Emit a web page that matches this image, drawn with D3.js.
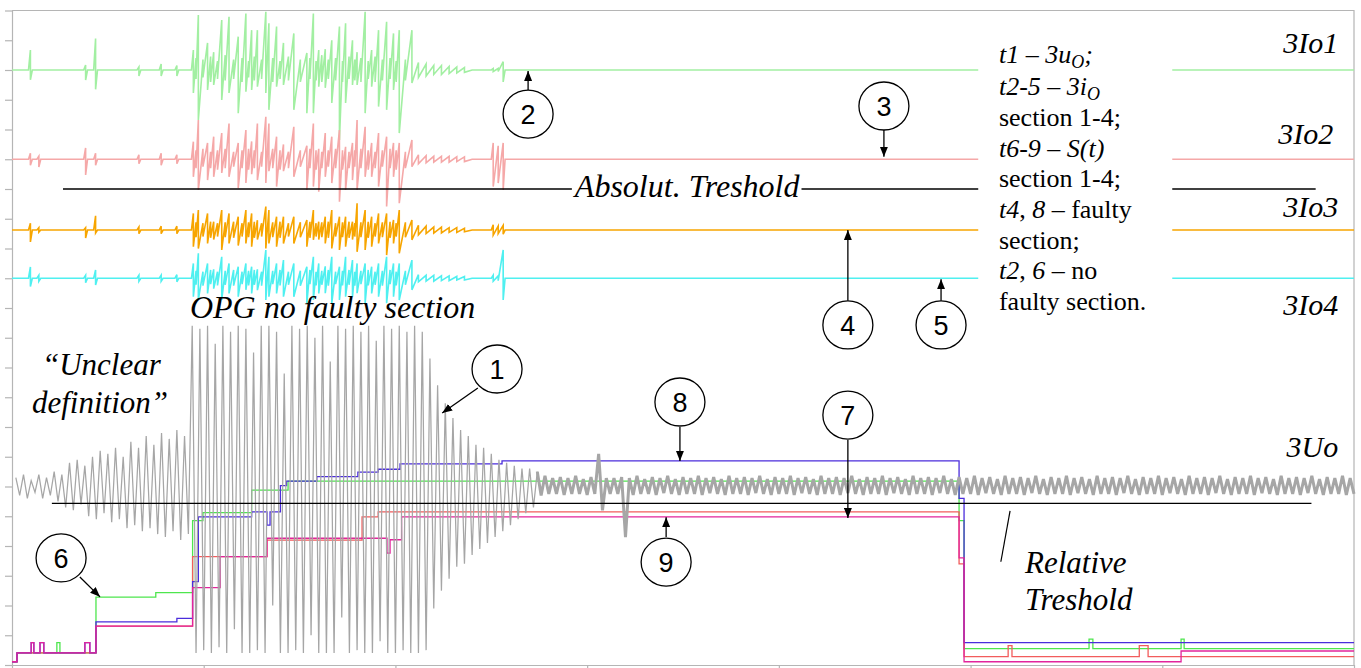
<!DOCTYPE html>
<html><head><meta charset="utf-8">
<script src="https://cdn.jsdelivr.net/npm/d3@7"></script>
<style>
html,body{margin:0;padding:0;background:#fff;}
svg{display:block;}
text{font-family:"Liberation Serif","Times New Roman",serif;}
</style></head><body>
<svg id="chart" width="1361" height="668"></svg>
<script>
// ---------------- DATA ----------------
// time axis ticks (ms) and level ticks (unlabelled grid of the oscillogram)
const timeTicks = [0,50,100,150,200,250,300,350];
const levelTicks = [0,1,2,3,4,5,6,7,8,9,10,11,12,13,14,15,16,17,18,19,20,21,22];

// 3Uo : alternating peak values, one per ms starting at t = 1 ms
const uoStartMs = 1;
const uoOnset = [6.3,5.7,6.4,5.6,6.2,5.8,6.4,5.6,6.3,5.7,6.5,5.5,6.4,
  5.3,6.8,5.2,6.9,5.4,6.7,5.0,7.0,4.9,7.2,5.1,7.1,4.8,7.3,4.9,7.0,4.6,7.5,4.7,7.3,4.5,7.7,4.6,7.4,4.4,7.8,4.3,7.6,4.5,7.9,4.2,7.7,4.4];
const uoFault = [11.4,0.4,11.3,0.5,11.4,0.4,10.8,0.6,11.4,0.4,11.2,1.2,11.4,0.4,11.3,0.4,10.5,0.5,11.4,0.4,11.4,2.0,11.2,0.4,9.8,0.4,
  11.4,0.5,11.3,0.4,11.4,1.0,11.0,0.4,11.4,0.4,10.2,0.4,11.4,1.6,11.3,0.4,11.4,0.5,11.2,0.4,11.4,0.4,10.9,0.8,11.4,0.4,11.3,0.4,
  11.4,0.5,11.2,0.4,11.4,0.4,11.2,
  0.5,10.3,1.9,9.4,2.5,8.8,2.9,8.3,3.3,7.9,3.4,7.7,3.7,7.4,3.9,7.3,4.1,7.1,4.3,6.9,4.5,6.8,4.7,6.7,4.9,6.6,5.1,6.6,5.3,6.5];
const uoSteady = [5.7,6.36,5.75,6.28,5.75,6.32,5.72,6.28,5.75,6.36,
  5.75,6.25,5.72,6.32,5.75,7.1,5.2,6.28,5.75,6.28,
  5.75,6.32,4.3,6.28,5.72,6.36,5.75,6.25,5.75,6.32,
  5.72,6.28,5.78,6.36,5.75,6.25,5.72,6.32,5.75,6.28,
  5.75,6.36,5.72,6.28,5.78,6.32,5.75,6.25,5.72,6.36,
  5.75,6.28,5.75,6.32,5.72,6.28,5.78,6.36,5.75,6.25,
  5.72,6.32,5.75,6.28,5.75,6.36,5.72,6.28,5.78,6.32,
  5.75,6.25,5.72,6.36,5.75,6.28,5.75,6.32,5.72,6.28,
  5.78,6.36,5.75,6.25,5.72,6.32,5.75,6.28,5.75,6.36,
  5.72,6.28,5.78,6.32,5.75,6.25,5.72,6.36,5.75,6.28,
  5.75,6.32,5.72,6.28,5.78,6.36,5.75,6.25,5.72,6.32,
  5.75,6.28,5.75,6.36,5.72,6.28,5.78,6.32,5.75,6.25,
  5.72,6.36,5.75,6.28,5.75,6.32,5.72,6.28,5.78,6.36,
  5.75,6.25,5.72,6.32,5.75,6.28,5.75,6.36,5.72,6.28,
  5.78,6.32,5.75,6.25,5.72,6.36,5.75,6.28,5.75,6.32,
  5.72,6.28,5.78,6.36,5.75,6.25,5.72,6.32,5.75,6.28,
  5.75,6.36,5.72,6.28,5.78,6.32,5.75,6.25,5.72,6.36,
  5.75,6.28,5.75,6.32,5.72,6.28,5.78,6.36,5.75,6.25,
  5.72,6.32,5.75,6.28,5.75,6.36,5.72,6.28,5.78,6.32,
  5.75,6.25,5.72,6.36,5.75,6.28,5.75,6.32,5.72,6.28,
  5.78,6.36,5.75,6.25,5.72,6.32,5.75,6.28,5.75,6.36,
  5.72,6.28,5.75];

// 3Io1..3Io4 : max / min per event time (ms)
const ioT = [0,4.3,4.8,5.3,6.5,7.0,7.5,18.7,19.2,19.7,21.3,21.8,22.3,32.6,33.1,33.6,38.4,38.9,39.4,42.5,43.0,43.5,46.8,
  47.3,48.0,48.6,49.8,51.0,51.8,52.6,53.6,54.7,55.6,56.6,57.8,59.0,60.0,61.0,61.7,62.5,63.2,64.0,65.1,66.2,67.0,68.0,69.0,69.9,70.8,
  72.1,73.5,75.2,76.9,77.7,78.6,79.3,80.0,80.8,81.7,82.5,83.4,84.4,85.4,86.2,87.0,87.9,88.8,89.4,90.0,91.0,92.1,92.9,93.8,94.7,95.6,
  96.6,97.7,98.6,99.5,100.2,101.0,102.6,104.3,
  106,108,110,112,114,116,118,120,125.0,125.5,126.8,128.1,128.6,350];

const io1Max = [20,20,20.67,20,20,20,20,20,20.17,20,20,21.06,20,20,20.1,20,20,20.2,20,20,20.15,20,20,
  20.67,20.4,21.85,20.35,20.91,20.45,20.6,20.3,21.68,20.5,21.79,20.35,21.12,20.4,21.9,20.3,21.34,20.45,21.34,20.35,21.96,21.57,
  20.4,21.46,20.3,20.91,20.45,21.23,20.35,20.57,20.4,21.9,20.3,20.67,20.5,20.7,20.35,21.0,20.4,21.46,20.3,21.57,20.45,21.0,20.35,
  20.6,20.4,21.96,20.3,20.67,20.45,21.34,20.35,21.62,20.4,21.23,20.3,21.34,20.35,21.34,
  20.25,20.2,20.15,20.15,20.12,20.1,20.08,20,20,20.05,20.05,20.28,20,20];
const io1Min = [20,20,19.67,20,20,20,20,20,19.66,20,20,19.35,20,20,19.8,20,20,19.8,20,20,19.8,20,20,
  19.23,19.7,18.32,19.75,19.33,19.6,19.5,19.7,18.99,19.65,19.23,19.7,18.55,19.6,19.27,19.75,19.33,19.65,19.44,19.7,19.23,18.66,
  19.6,19.44,19.7,19.5,19.65,18.66,19.6,18.55,19.7,18.55,19.65,19.44,19.6,19.4,19.7,18.89,19.65,17.65,19.6,18.89,19.7,19.5,19.65,
  19.5,19.6,18.55,19.7,19.44,19.6,18.77,19.65,18.66,19.7,19.33,19.6,17.88,19.65,19.56,
  19.75,19.8,19.85,19.85,19.88,19.9,19.92,20,20,19.95,19.95,19.6,20,20];

const io2Max = [17,17,17.2,17,17,17.1,17,17,17.38,17,17,17.2,17,17,17.15,17,17,17.2,17,17,17.15,17,17,
  17.59,17.3,18.32,17.35,17.55,17.25,17.76,17.3,17.88,17.35,18.2,17.25,17.55,17.3,17.98,17.35,17.6,17.3,18.2,17.25,18.43,18.2,
  17.35,17.76,17.3,17.5,17.25,18.09,17.3,17.45,17.35,18.2,17.3,17.35,17.25,17.88,17.3,17.76,17.35,17.98,17.3,17.42,17.25,17.55,17.3,
  18.32,17.35,18.09,17.3,17.55,17.25,17.88,17.3,17.76,17.35,17.55,17.3,17.55,17.25,17.65,
  17.15,17.12,17.1,17.1,17.1,17.08,17.08,17,17,17.55,17.45,17.55,17,17];
const io2Min = [17,17,16.8,17,17,16.74,17,17,16.47,17,17,16.8,17,17,16.85,17,17,16.8,17,17,16.85,17,17,
  16.41,16.7,15.97,16.75,16.3,16.7,16.41,16.65,16.54,16.7,16.41,16.75,16.03,16.7,16.2,16.65,16.5,16.7,16.3,16.75,16.2,16.6,
  16.7,16.08,16.65,16.6,16.7,16.41,16.75,15.97,16.7,16.08,16.65,15.91,16.7,16.41,16.75,16.2,16.7,15.57,16.65,15.97,16.7,16.3,16.75,
  15.97,16.7,16.41,16.65,16.41,16.7,16.08,16.75,15.41,16.7,16.41,16.65,15.52,16.7,16.75,
  16.85,16.88,16.9,16.9,16.9,16.92,16.92,17,17,16.08,16.2,15.97,17,17];

const io3Max = [14.62,14.62,14.85,14.62,14.62,14.7,14.62,14.62,14.7,14.62,14.62,15.1,14.62,14.62,14.72,14.62,14.62,14.75,14.62,14.62,14.75,14.62,14.62,
  15.18,14.88,15.29,14.85,15.18,14.9,14.9,14.85,15.29,14.88,15.18,14.9,15.07,14.85,15.29,14.88,15.18,14.9,14.95,14.85,15.41,15.29,
  14.88,15.07,14.9,15.07,14.85,15.07,14.88,14.96,14.9,15.29,14.85,14.9,14.88,15.07,14.9,15.29,14.85,15.07,14.88,15.07,14.9,14.9,14.85,
  15.52,14.88,15.29,14.9,15.07,14.85,15.18,14.88,15.18,14.9,14.96,14.85,15.29,14.88,14.96,
  14.78,14.75,14.72,14.72,14.7,14.7,14.68,14.62,14.62,14.8,14.75,14.78,14.62,14.62];
const io3Min = [14.62,14.62,14.22,14.62,14.62,14.55,14.62,14.62,14.35,14.62,14.62,14.52,14.62,14.62,14.5,14.62,14.62,14.5,14.62,14.62,14.5,14.62,14.62,
  14.06,14.38,14.0,14.4,14.17,14.36,14.3,14.4,13.95,14.38,14.17,14.36,14.1,14.4,14.17,14.38,14.06,14.36,14.3,14.4,14.0,14.17,
  14.38,14.06,14.36,14.17,14.4,14.17,14.38,14.06,14.36,14.29,14.4,14.3,14.38,14.17,14.36,14.0,14.4,13.95,14.38,14.06,14.36,14.3,14.4,
  13.89,14.38,13.95,14.36,14.06,14.4,14.17,14.38,13.78,14.36,14.17,14.4,13.84,14.38,14.29,
  14.46,14.5,14.52,14.52,14.54,14.54,14.56,14.62,14.62,14.45,14.5,14.48,14.62,14.62];

const io4Max = [13,13,13.38,13,13,13.1,13,13,13.1,13,13,13.28,13,13,13.1,13,13,13.1,13,13,13.12,13,13,
  13.5,13.25,13.84,13.22,13.5,13.28,13.3,13.22,13.72,13.25,13.5,13.28,13.39,13.22,13.5,13.25,13.39,13.28,13.3,13.22,13.95,13.72,
  13.25,13.5,13.28,13.61,13.22,13.5,13.25,13.39,13.28,13.72,13.22,13.5,13.25,13.4,13.28,13.72,13.22,13.39,13.25,13.72,13.28,13.61,13.22,
  13.5,13.25,13.5,13.28,13.39,13.22,13.5,13.25,13.72,13.28,13.5,13.22,13.5,13.25,13.61,
  13.12,13.1,13.1,13.08,13.08,13.06,13.06,13,13,13.1,13.08,13.95,13,13];
const io4Min = [13,13,12.72,13,13,12.9,13,13,12.85,13,13,12.77,13,13,12.9,13,13,12.9,13,13,12.88,13,13,
  12.38,12.78,12.27,12.75,12.49,12.8,12.65,12.76,12.27,12.78,12.49,12.75,12.38,12.8,12.61,12.76,12.49,12.78,12.6,12.75,12.27,12.38,
  12.8,12.49,12.76,12.38,12.78,12.38,12.75,12.16,12.8,12.27,12.76,12.49,12.78,12.5,12.75,12.16,12.8,12.27,12.76,12.38,12.78,12.38,12.75,
  12.5,12.8,12.16,12.76,12.49,12.78,12.38,12.75,12.16,12.8,12.38,12.76,12.27,12.78,12.61,
  12.88,12.9,12.9,12.92,12.92,12.94,12.94,13,13,12.9,12.92,12.27,13,13];

// S(t) step curves (t ms, level)
const s6Green = [[0,0.11],[1.3,0.41],[11.7,0.75],[12.5,0.41],[21.9,2.28],[37.5,2.43],[47.1,4.85],[49.8,5.12],[62.5,5.88],[72,6.18],
  [247,4.85],[248.3,0.55],[280.9,0.87],[281.9,0.55],[304.9,0.87],[305.7,0.55],[350,0.55]];
const s7Red = [[0,0.11],[1.3,0.41],[21.9,1.31],[47.1,3.64],[66.5,4.2],[91.3,4.98],[95.5,5.15],[247,3.4],[248.3,0.28],
  [259.8,0.65],[260.8,0.28],[294,0.65],[296.3,0.28],[350,0.28]];
const s8Blue = [[0,0.11],[1.3,0.41],[5.0,0.75],[5.7,0.41],[7.3,0.75],[8.3,0.41],[19,0.75],[20.3,0.41],[21.9,1.45],[43,1.57],
  [47.1,2.8],[48.6,4.98],[62.5,5.15],[66.5,4.7],[67.3,5.15],[70,6.03],[71.6,6.18],[79.5,6.33],[90.2,6.48],[95.5,6.58],[101.2,6.76],
  [127.8,6.86],[247,5.6],[248.3,0.75],[350,0.75]];
const s9Magenta = [[0,0.11],[1.3,0.41],[5.0,0.75],[5.7,0.41],[7.3,0.75],[8.3,0.41],[19,0.75],[20.3,0.41],[21.9,1.31],[47.1,2.6],
  [54.3,3.64],[66.5,4.26],[97.8,3.76],[98.6,4.21],[101.6,4.98],[247,3.6],[248.3,0.11],[304.9,0.47],[350,0.47]];

// thresholds
const absThreshold = [[13.3,16.0],[340,16.0]];
const relThreshold = [[10.4,5.43],[338.9,5.43]];

// texts
const channelNames = ["3Io1","3Io2","3Io3","3Io4","3Uo"];
const calloutNumbers = ["1","2","3","4","5","6","7","8","9"];

// ---------------- DRAWING ----------------
const X = d3.scaleLinear().domain([0,350]).range([12,1354]);
const Y = d3.scaleLinear().domain([0,22]).range([665,10.5]);
const svg = d3.select("#chart");
const axisColor = "#b5b5b5";

// axes & frame
const gY = svg.append("g").attr("transform","translate(12,0)")
  .call(d3.axisLeft(Y).tickValues(levelTicks).tickSize(7).tickSizeOuter(0).tickFormat(""));
const gX = svg.append("g").attr("transform",`translate(0,${Y(0)})`)
  .call(d3.axisBottom(X).tickValues(timeTicks).tickSize(4).tickSizeOuter(0).tickFormat(""));
[gX,gY].forEach(g=>g.selectAll("path,line").attr("stroke",axisColor).attr("stroke-width",1.2));
svg.append("path").attr("d",`M${X(0)},${Y(22)}H${X(350)}V${Y(0)}`)
  .attr("fill","none").attr("stroke",axisColor).attr("stroke-width",1.2);

const lineTV = d3.line().x(d=>X(d[0])).y(d=>Y(d[1]));
const stepTV = d3.line().x(d=>X(d[0])).y(d=>Y(d[1])).curve(d3.curveStepAfter);

// step curves
[[s6Green,"#4ee64e"],[s7Red,"#f25c5c"],[s8Blue,"#4b2ddc"],[s9Magenta,"#e2249c"]].forEach(([d,c])=>{
  svg.append("path").datum(d).attr("d",stepTV).attr("fill","none").attr("stroke",c).attr("stroke-width",1.3);
});

// 3Uo : transient part thin, steady part drawn heavier (dense band)
const uoAll = uoOnset.concat(uoFault, uoSteady).map((v,i)=>[uoStartMs+i, v]);
const nTrans = uoOnset.length + uoFault.length;
svg.append("path").datum(uoAll.slice(0,nTrans)).attr("d",lineTV).attr("fill","none")
  .attr("stroke","#a6a6a6").attr("stroke-width",1.25);
svg.append("path").datum(uoAll.slice(nTrans-1)).attr("d",lineTV).attr("fill","none")
  .attr("stroke","#a6a6a6").attr("stroke-width",3.0).attr("stroke-linejoin","bevel");

// currents
function envPoints(mx, mn){
  const n = Math.min(ioT.length, mx.length, mn.length);
  const pts = [];
  for(let i=0;i<n;i++){ pts.push([ioT[i],mx[i]]); pts.push([ioT[i],mn[i]]); }
  return pts;
}
[[io1Max,io1Min,"#a2efa2"],[io2Max,io2Min,"#f5a8a8"],[io3Max,io3Min,"#f7a500"],[io4Max,io4Min,"#4ff0f0"]].forEach(([a,b,c])=>{
  svg.append("path").datum(envPoints(a,b)).attr("d",lineTV).attr("fill","none")
    .attr("stroke",c).attr("stroke-width",1.6);
});

// thresholds
[absThreshold, relThreshold].forEach(d=>{
  svg.append("path").datum(d).attr("d",lineTV).attr("fill","none").attr("stroke","#000").attr("stroke-width",1.3);
});

// legend box (white) with text
svg.append("rect").attr("x",X(252.0)).attr("y",Y(21.5)).attr("width",X(302.6)-X(252.0)).attr("height",Y(11.55)-Y(21.5))
  .attr("fill","#fff");

const legendLines = [
  [["t1 – 3u","i"],["O","isub"],[";","i"]],
  [["t2-5 – 3i","i"],["O","isub"]],
  [["section 1-4;","n"]],
  [["t6-9 – S(t)","i"]],
  [["section 1-4;","n"]],
  [["t4","i"],[", ","n"],["8","i"],[" – faulty","n"]],
  [["section;","n"]],
  [["t2","i"],[", ","n"],["6","i"],[" – no","n"]],
  [["faulty section.","n"]]
];
const legendBase = [20.23,19.16,18.12,17.09,16.06,15.02,13.97,12.96,11.93];
legendLines.forEach((parts,k)=>{
  const t = svg.append("text").attr("x",X(257.4)).attr("y",Y(legendBase[k])).attr("font-size",26).attr("fill","#000");
  let sub=false;
  parts.forEach(([s,st])=>{
    const ts = t.append("tspan").text(s);
    if(st!=="n") ts.attr("font-style","italic");
    if(st==="isub"){ ts.attr("font-size",18).attr("dy",5); sub=true; }
    else if(sub){ ts.attr("dy",-5); sub=false; }
  });
});

// big italic labels
function label(txt, t, v, size, anchor){
  return svg.append("text").attr("x",X(t)).attr("y",Y(v)).attr("font-size",size)
    .attr("font-style","italic").attr("text-anchor",anchor||"start").attr("fill","#000").text(txt);
}
const chanPos = [[345.9,20.57],[344.6,17.51],[345.9,15.06],[345.9,11.76],[345.9,6.99]];
channelNames.forEach((n,i)=>label(n, chanPos[i][0], chanPos[i][1], 30, "end"));

const absLbl = label("Absolut. Treshold", 146.8, 15.73, 32);
const bb = absLbl.node().getBBox();
svg.insert("rect", () => absLbl.node()).attr("x",bb.x-1).attr("y",Y(16.0)-4).attr("width",bb.width+2).attr("height",8).attr("fill","#fff");

label("OPG no faulty section", 46.4, 11.66, 32);
label("“Unclear", 7.8, 9.75, 31);
label("definition”", 5.2, 8.47, 31);
label("Relative", 264.2, 3.09, 31);
label("Treshold", 264.2, 1.85, 31);
svg.append("path").datum([[260.3,5.18],[257.9,3.47]]).attr("d",lineTV).attr("stroke","#000").attr("stroke-width",1.2);

// arrow marker
svg.append("defs").append("marker").attr("id","ah").attr("viewBox","0 0 10 8").attr("refX",10).attr("refY",4)
  .attr("markerWidth",10).attr("markerHeight",8).attr("markerUnits","userSpaceOnUse").attr("orient","auto")
  .append("path").attr("d","M0,0L10,4L0,8Z").attr("fill","#000");

// callouts: number circle centre and arrow (all in chart units)
const callouts = [
  [126.5,9.95, 121.5,9.31, 112.2,8.47],
  [134.6,18.52, 134.6,19.29, 134.6,19.97],
  [227.4,18.79, 227.4,17.98, 227.4,17.08],
  [218.0,11.43, 218.0,12.24, 218.0,14.62],
  [242.3,11.43, 242.3,12.24, 242.3,12.97],
  [12.8,3.6, 17.7,2.96, 22.95,2.29],
  [218.0,8.4, 218.0,7.56, 218.0,4.94],
  [174.2,8.84, 174.2,8.0, 174.2,6.86],
  [170.6,3.46, 170.6,4.3, 170.6,4.97]
];
callouts.forEach((c,i)=>{
  svg.append("line").attr("x1",X(c[2])).attr("y1",Y(c[3])).attr("x2",X(c[4])).attr("y2",Y(c[5]))
    .attr("stroke","#000").attr("stroke-width",1.3).attr("marker-end","url(#ah)");
  svg.append("ellipse").attr("cx",X(c[0])).attr("cy",Y(c[1])).attr("rx",25).attr("ry",24)
    .attr("fill","#fff").attr("stroke","#000").attr("stroke-width",1.3);
  svg.append("text").attr("x",X(c[0])).attr("y",Y(c[1])).attr("dy","0.36em").attr("text-anchor","middle")
    .attr("font-size",27).style("font-family","'Liberation Sans',Arial,sans-serif").attr("fill","#000").text(calloutNumbers[i]);
});
</script>
</body></html>
